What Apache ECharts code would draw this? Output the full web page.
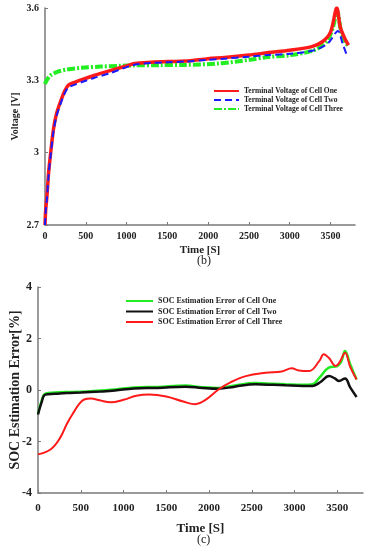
<!DOCTYPE html>
<html><head><meta charset="utf-8">
<script src="https://cdn.jsdelivr.net/npm/echarts@6/dist/echarts.min.js"></script>
<style>html,body{margin:0;padding:0;background:#fff}#c{width:370px;height:550px}</style>
</head><body><div id="c"></div>
<script>
// ---- Top chart (b): terminal voltage ----
var tV1 = [0,8,24,45,73,105,140,188,240,285,350,470,600,800,1000,1100,1300,1500,1720,2000,2200,2500,2740,3000,3270,3400,3500,3577,3620,3680,3720];
var vCell1 = [2.70,2.76,2.82,2.92,3.01,3.10,3.16,3.21,3.255,3.28,3.29,3.305,3.32,3.34,3.36,3.37,3.375,3.378,3.38,3.39,3.395,3.405,3.415,3.425,3.44,3.46,3.50,3.60,3.52,3.47,3.446];
var tV2 = [0,8,24,45,73,105,140,188,240,285,350,470,600,800,1000,1100,1300,1500,1720,2000,2200,2500,2740,3000,3300,3470,3590,3650,3700];
var vCell2 = [2.70,2.755,2.81,2.91,3.0,3.09,3.15,3.20,3.245,3.27,3.28,3.295,3.31,3.33,3.355,3.365,3.372,3.375,3.378,3.385,3.39,3.398,3.405,3.41,3.425,3.454,3.505,3.45,3.404];
var tV3 = [0,20,65,150,270,450,680,900,1085,1400,1720,2125,2500,2740,3000,3300,3450,3530,3580,3630,3680,3720];
var vCell3 = [3.285,3.30,3.32,3.335,3.345,3.352,3.357,3.36,3.362,3.363,3.364,3.37,3.385,3.397,3.404,3.425,3.46,3.52,3.59,3.5,3.46,3.44];
var voltTicks = [2.7,3,3.3,3.6];
var timeTicks = [0,500,1000,1500,2000,2500,3000,3500];

// ---- Bottom chart (c): SOC estimation error ----
var tE1 = [0,40,85,200,340,500,730,900,1120,1400,1725,1920,2110,2300,2545,2750,2895,3100,3210,3290,3400,3500,3545,3590,3650,3725];
var eCell1 = [-0.9,-0.45,-0.14,-0.1,-0.08,-0.07,-0.02,0.02,0.1,0.12,0.17,0.11,0.08,0.18,0.27,0.24,0.22,0.2,0.22,0.48,0.87,0.93,1.1,1.51,1.0,0.41];
var tE2 = [0,40,85,200,340,500,730,900,1120,1400,1725,1920,2110,2300,2545,2750,2895,3100,3210,3300,3403,3470,3520,3590,3650,3725];
var eCell2 = [-0.95,-0.5,-0.18,-0.15,-0.12,-0.1,-0.06,-0.02,0.06,0.08,0.13,0.08,0.05,0.13,0.22,0.2,0.18,0.16,0.16,0.3,0.54,0.45,0.35,0.45,0.1,-0.27];
var tE3 = [0,150,260,340,420,480,540,620,720,850,1000,1150,1300,1500,1700,1840,1950,2115,2250,2430,2660,2850,2966,3050,3170,3290,3340,3400,3480,3530,3590,3650,3725];
var eCell3 = [-2.5,-2.3,-1.85,-1.3,-0.85,-0.55,-0.37,-0.33,-0.4,-0.48,-0.38,-0.22,-0.17,-0.25,-0.45,-0.55,-0.4,0.03,0.3,0.54,0.67,0.72,0.84,0.76,0.74,1.13,1.39,1.25,0.93,1.1,1.45,0.9,0.41];

var names = {
  v1:'Terminal Voltage of Cell One', v2:'Terminal Voltage of Cell Two', v3:'Terminal Voltage of Cell Three',
  e1:'SOC Estimation Error of Cell One', e2:'SOC Estimation Error of Cell Two', e3:'SOC Estimation Error of Cell Three'
};

function pairs(t, v){ return t.map(function(x,i){ return [x, v[i]]; }); }

var FONT = '"Liberation Serif","Times New Roman",serif';
var axisLine = {onZero:false, lineStyle:{color:'#7a7a7a', width:1.5}};
var axisTick = {inside:true, length:3, lineStyle:{color:'#7a7a7a', width:1}};
var lbl = {fontFamily:FONT, fontWeight:'bold', fontSize:11, color:'#222'};

var chart = echarts.init(document.getElementById('c'), null, {renderer:'canvas'});
chart.setOption({
  animation:false,
  backgroundColor:'#fff',
  grid:[
    {left:45, top:8, width:310, height:217, outerBoundsMode:'none', containLabel:false},
    {left:38, top:287, width:325, height:206, outerBoundsMode:'none', containLabel:false}
  ],
  legend:[
    {orient:'vertical', left:213, top:87, padding:0, itemWidth:25, itemHeight:8, itemGap:1, itemStyle:{opacity:0},
     textStyle:{fontFamily:FONT, fontWeight:'bold', fontSize:7.5, color:'#222'},
     data:[names.v1, names.v2, names.v3]},
    {orient:'vertical', left:125, top:297, padding:0, itemWidth:27, itemHeight:10, itemGap:2.5, itemStyle:{opacity:0},
     textStyle:{fontFamily:FONT, fontWeight:'bold', fontSize:8, color:'#222'},
     data:[names.e1, names.e2, names.e3]}
  ],
  xAxis:[
    {type:'value', gridIndex:0, min:0, max:3800, interval:500, axisLine:axisLine, axisTick:axisTick, splitLine:{show:false},
     axisLabel:Object.assign({margin:6, showMaxLabel:false, formatter:function(v){return timeTicks.indexOf(v)>=0?String(v):'';}}, lbl, {fontSize:10}),
     name:'Time [S]', nameLocation:'middle', nameGap:20, nameMoveOverlap:false, nameTextStyle:{fontFamily:FONT, fontWeight:'bold', fontSize:11, color:'#222'}},
    {type:'value', gridIndex:1, min:0, max:3800, interval:500, axisLine:axisLine, axisTick:axisTick, splitLine:{show:false},
     axisLabel:Object.assign({margin:10, showMaxLabel:false, formatter:function(v){return timeTicks.indexOf(v)>=0?String(v):'';}}, lbl),
     name:'Time [S]', nameLocation:'middle', nameGap:29, nameMoveOverlap:false, nameTextStyle:{fontFamily:FONT, fontWeight:'bold', fontSize:13, color:'#222'}}
  ],
  yAxis:[
    {type:'value', gridIndex:0, min:2.7, max:3.6, interval:0.3, axisLine:axisLine, axisTick:axisTick, splitLine:{show:false},
     axisLabel:Object.assign({margin:6, formatter:function(v){var r=Math.round(v*10)/10; return voltTicks.indexOf(r)>=0?String(r):'';}}, lbl, {fontSize:10}),
     name:'Voltage [V]', nameLocation:'middle', nameGap:25, nameMoveOverlap:false, nameTextStyle:{fontFamily:FONT, fontWeight:'bold', fontSize:10, color:'#222'}},
    {type:'value', gridIndex:1, min:-4, max:4, interval:2, axisLine:axisLine, axisTick:axisTick, splitLine:{show:false},
     axisLabel:Object.assign({margin:6}, lbl, {fontSize:12}),
     name:'SOC Estimation Error[%]', nameLocation:'middle', nameGap:16, nameMoveOverlap:false, nameTextStyle:{fontFamily:FONT, fontWeight:'bold', fontSize:14, color:'#222'}}
  ],
  graphic:[
    {type:'text', left:197, top:255, style:{text:'(b)', font:'12px ' + FONT, fill:'#222'}},
    {type:'text', left:197, top:534, style:{text:'(c)', font:'12px ' + FONT, fill:'#222'}}
  ],
  series:[
    {name:names.v1, type:'line', xAxisIndex:0, yAxisIndex:0, data:pairs(tV1,vCell1), smooth:0.3, showSymbol:false, symbol:'none',
     lineStyle:{color:'#ff1a1a', width:3.5}, itemStyle:{color:'#ff1a1a'}, z:3},
    {name:names.v2, type:'line', xAxisIndex:0, yAxisIndex:0, data:pairs(tV2,vCell2), smooth:0.3, showSymbol:false, symbol:'none',
     lineStyle:{color:'#1a1aff', width:2, type:[7,4]}, itemStyle:{color:'#1a1aff'}, z:4},
    {name:names.v3, type:'line', xAxisIndex:0, yAxisIndex:0, data:pairs(tV3,vCell3), smooth:0.3, showSymbol:false, symbol:'none',
     lineStyle:{color:'#22ee22', width:4, type:[8,2,2,2]}, itemStyle:{color:'#22ee22'}, z:2},
    {name:names.e1, type:'line', xAxisIndex:1, yAxisIndex:1, data:pairs(tE1,eCell1), smooth:0.4, showSymbol:false, symbol:'none',
     lineStyle:{color:'#22ee22', width:2.5}, itemStyle:{color:'#22ee22'}, z:2},
    {name:names.e2, type:'line', xAxisIndex:1, yAxisIndex:1, data:pairs(tE2,eCell2), smooth:0.4, showSymbol:false, symbol:'none',
     lineStyle:{color:'#111111', width:2.5}, itemStyle:{color:'#111111'}, z:3},
    {name:names.e3, type:'line', xAxisIndex:1, yAxisIndex:1, data:pairs(tE3,eCell3), smooth:0.4, showSymbol:false, symbol:'none',
     lineStyle:{color:'#ff1a1a', width:2}, itemStyle:{color:'#ff1a1a'}, z:4}
  ]
});
</script></body></html>
